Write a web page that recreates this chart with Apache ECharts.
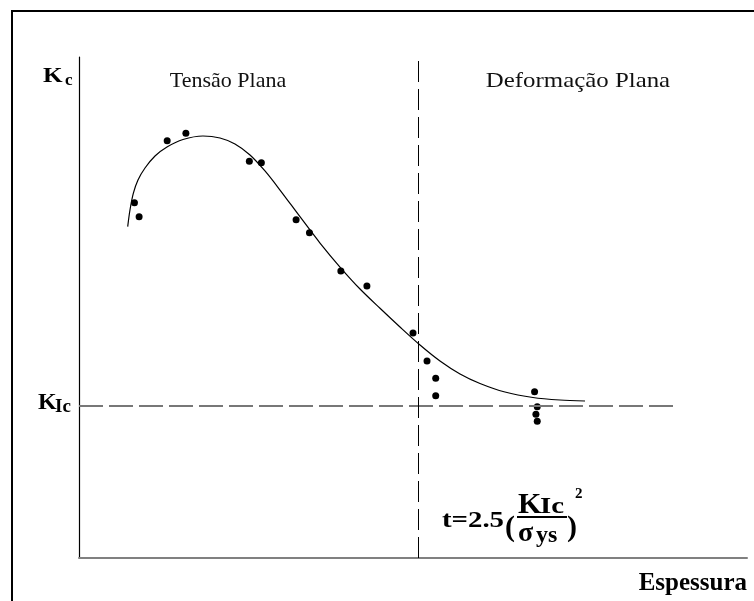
<!DOCTYPE html>
<html>
<head>
<meta charset="utf-8">
<script src="https://cdn.jsdelivr.net/npm/echarts@6/dist/echarts.min.js"></script>
<style>
  html, body { margin: 0; padding: 0; background: #ffffff; }
  #chart { width: 754px; height: 601px; }
</style>
</head>
<body>
<div id="chart"></div>
<script>
// Fitted toughness curve K_c versus thickness (schematic units)
const curveX = [7.29, 7.63, 8.13, 8.83, 9.88, 11.38, 13.17, 15.57, 18.56, 21.11, 23.35, 25.60, 27.84, 30.09,
                33.08, 36.08, 39.07, 42.07, 45.06, 48.05, 51.05, 54.04, 57.04, 60.03, 63.77, 67.96, 72.01, 75.75];
const curveY = [66.13, 69.46, 72.79, 75.45, 77.84, 80.24, 82.04, 83.53, 84.23, 83.83, 82.63, 80.44, 77.25, 73.45,
                68.12, 62.87, 58.08, 53.69, 49.84, 46.11, 42.51, 39.32, 36.73, 34.83, 33.13, 32.04, 31.54, 31.34];

// Measured specimens
const pointX = [8.3, 9.0, 13.2, 16.0, 25.5, 27.3, 32.5, 34.5, 39.2, 43.1, 50.0, 52.1, 53.4, 53.4, 68.2, 68.6, 68.4, 68.6];
const pointY = [70.9, 68.1, 83.3, 84.8, 79.2, 78.9, 67.5, 64.9, 57.3, 54.3, 44.9, 39.3, 35.9, 32.4, 33.2, 30.2, 28.7, 27.3];

// Plane-strain toughness level and limiting thickness
const kIc = 30.4;
const kIcLineEnd = 89.2;
const tLimit = 50.8;

const serif = '"Liberation Serif", "DejaVu Serif", serif';

const chart = echarts.init(document.getElementById('chart'), null, { renderer: 'canvas' });

const curveData = curveX.map((x, i) => [x, curveY[i]]);
const pointData = pointX.map((x, i) => [x, pointY[i]]);

function label(x, y, text, size, opts) {
  opts = opts || {};
  return {
    type: 'text', x: x, y: y, scaleX: opts.scaleX || 1, silent: true,
    style: {
      text: text,
      font: (opts.bold === false ? '' : 'bold ') + size + 'px ' + serif,
      fill: opts.fill || '#000',
      textAlign: opts.align || 'left',
      textVerticalAlign: opts.valign || 'bottom'
    }
  };
}

chart.setOption({
  animation: false,
  backgroundColor: '#ffffff',
  grid: { left: 79, right: 7, top: 57, bottom: 43 },
  xAxis: {
    type: 'value', min: 0, max: 100,
    axisLine: { show: true, onZero: false, lineStyle: { color: '#808080', width: 2 } },
    axisTick: { show: false }, axisLabel: { show: false }, splitLine: { show: false }
  },
  yAxis: {
    type: 'value', min: 0, max: 100,
    axisLine: { show: true, onZero: false, lineStyle: { color: '#000000', width: 1.2 } },
    axisTick: { show: false }, axisLabel: { show: false }, splitLine: { show: false }
  },
  series: [
    {
      type: 'line',
      data: curveData,
      smooth: 0.3,
      showSymbol: false,
      lineStyle: { color: '#000000', width: 1.2 },
      silent: true,
      markLine: {
        silent: true,
        symbol: 'none',
        label: { show: false },
        data: [
          [
            { coord: [0, kIc], lineStyle: { color: '#777777', width: 2, type: [24, 6] } },
            { coord: [kIcLineEnd, kIc] }
          ],
          [
            { coord: [tLimit, 0], lineStyle: { color: '#000000', width: 1, type: [21, 7] } },
            { coord: [tLimit, 100] }
          ]
        ]
      }
    },
    {
      type: 'scatter',
      data: pointData,
      symbol: 'circle',
      symbolSize: 7,
      itemStyle: { color: '#000000', opacity: 1 },
      silent: true
    }
  ],
  graphic: [
    // outer frame
    { type: 'rect', shape: { x: 12, y: 11, width: 900, height: 800 },
      style: { fill: 'none', stroke: '#000000', lineWidth: 2 }, silent: true },
    // K_c axis label
    label(43, 87, 'K', 21, { scaleX: 1.2 }),
    label(65, 89, 'c', 17),
    // K_Ic level label
    label(38, 415, 'K', 24),
    label(55, 417, 'Ic', 19),
    // regime labels
    label(228, 81, 'Tensão Plana', 22, { bold: false, fill: '#111', align: 'center', valign: 'middle' }),
    label(578, 81, 'Deformação Plana', 22, { bold: false, fill: '#111', align: 'center', valign: 'middle', scaleX: 1.13 }),
    // thickness axis label
    label(747, 584, 'Espessura', 25, { align: 'right', valign: 'middle' }),
    // limiting thickness formula
    label(442, 533, 't=2.5', 24, { scaleX: 1.2 }),
    label(505, 543, '(', 30),
    label(518, 520, 'K', 30),
    label(540, 519, 'Ic', 24, { scaleX: 1.2 }),
    { type: 'line', silent: true, shape: { x1: 517, y1: 517, x2: 567, y2: 517 }, style: { stroke: '#000', lineWidth: 2 } },
    label(518, 548, 'σ', 28),
    label(536, 548, 'ys', 24),
    label(567, 543, ')', 30),
    label(575, 502, '2', 15)
  ]
});
</script>
</body>
</html>
